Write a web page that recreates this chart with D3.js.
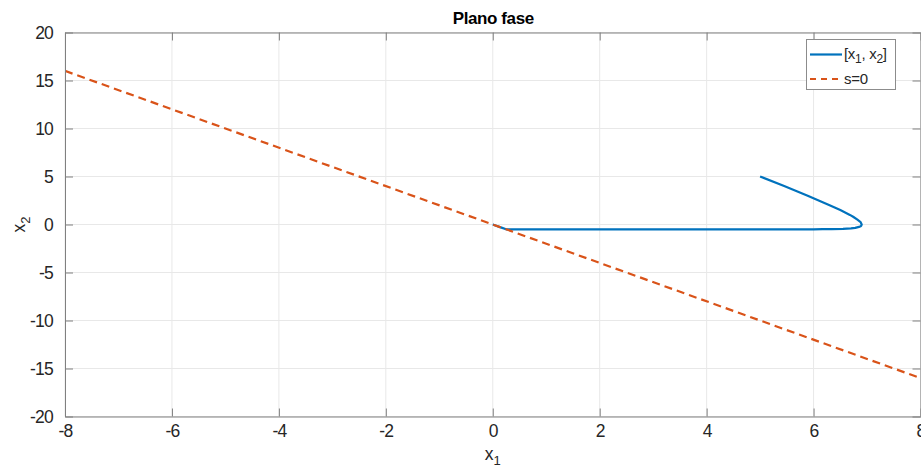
<!DOCTYPE html>
<html>
<head>
<meta charset="utf-8">
<script src="https://cdn.jsdelivr.net/npm/d3@7"></script>
<style>
  html, body { margin: 0; padding: 0; background: #fff; }
  svg { display: block; font-family: "Liberation Sans", Arial, Helvetica, sans-serif; }
</style>
</head>
<body>
<svg id="chart" width="921" height="467"></svg>
<script>
// ---- Data ----
const xTicks = [-8, -6, -4, -2, 0, 2, 4, 6, 8];
const yTicks = [-20, -15, -10, -5, 0, 5, 10, 15, 20];

// Trajectory [x1, x2]
const trajX1 = [5.00, 5.45, 5.89, 6.30, 6.50, 6.68, 6.74, 6.82, 6.88, 6.90, 6.89, 6.85, 6.78, 6.70, 6.55, 6.34, 6.17, 6.00, 5.00, 3.00, 1.00, 0.25, 0.15, 0.05, 0.00];
const trajX2 = [5.00, 4.00, 3.00, 2.00, 1.50, 1.00, 0.81, 0.50, 0.25, 0.00, -0.15, -0.25, -0.35, -0.40, -0.45, -0.48, -0.49, -0.50, -0.50, -0.50, -0.50, -0.50, -0.30, -0.10, 0.00];

// Sliding surface s = 0  (x2 = -2 x1)
const surfX1 = [-8, 8];
const surfX2 = [16, -16];

const titleText = "Plano fase";
const legendLabels = ["[x1, x2]", "s=0"];

// ---- Layout ----
const svg = d3.select("#chart");
const L = 65, R = 920.5, T = 32.5, B = 416.5;
const x = d3.scaleLinear().domain([-8, 8]).range([L, R]);
const y = d3.scaleLinear().domain([-20, 20]).range([B, T]);

const blue = "#0072BD", orange = "#D95319";
const axisColor = "#808080", textColor = "#262626", gridColor = "#e8e8e8";

// Grid
const g = svg.append("g");
g.selectAll("line.gx").data(xTicks).enter().append("line")
  .attr("x1", d => x(d)).attr("x2", d => x(d)).attr("y1", T).attr("y2", B)
  .attr("stroke", gridColor).attr("stroke-width", 1);
g.selectAll("line.gy").data(yTicks).enter().append("line")
  .attr("x1", L).attr("x2", R).attr("y1", d => y(d)).attr("y2", d => y(d))
  .attr("stroke", gridColor).attr("stroke-width", 1);

// Data lines
const lineGen = d3.line().x(d => x(d[0])).y(d => y(d[1]));
const traj = trajX1.map((v, i) => [v, trajX2[i]]);
const surf = surfX1.map((v, i) => [v, surfX2[i]]);

svg.append("clipPath").attr("id", "clip").append("rect")
  .attr("x", L).attr("y", T).attr("width", R - L).attr("height", B - T);

svg.append("path").datum(traj).attr("d", lineGen)
  .attr("fill", "none").attr("stroke", blue).attr("stroke-width", 2.2)
  .attr("stroke-linejoin", "round").attr("clip-path", "url(#clip)");
svg.append("path").datum(surf).attr("d", lineGen)
  .attr("fill", "none").attr("stroke", orange).attr("stroke-width", 2.2)
  .attr("stroke-dasharray", "8,5").attr("clip-path", "url(#clip)");

// Axes (box with inward ticks)
const tickLen = 8;
const fmt = d => String(d);
const axB = d3.axisBottom(x).tickValues(xTicks).tickFormat(fmt).tickSizeInner(-tickLen).tickSizeOuter(0).tickPadding(10);
const axL = d3.axisLeft(y).tickValues(yTicks).tickFormat(fmt).tickSizeInner(-tickLen).tickSizeOuter(0).tickPadding(12);
const axT = d3.axisTop(x).tickValues(xTicks).tickSizeInner(-tickLen).tickSizeOuter(0).tickFormat("");
const axR = d3.axisRight(y).tickValues(yTicks).tickSizeInner(-tickLen).tickSizeOuter(0).tickFormat("");

function styleAxis(sel) {
  sel.selectAll("path").attr("stroke", axisColor).attr("stroke-width", 1);
  sel.selectAll("line").attr("stroke", axisColor).attr("stroke-width", 1);
  sel.selectAll("text").attr("fill", textColor).attr("font-size", "17.5px")
    .attr("letter-spacing", "-0.8")
    .attr("font-family", "'Liberation Sans', Arial, sans-serif");
}
const gB = svg.append("g").attr("transform", `translate(0,${B})`).call(axB); styleAxis(gB);
const gL = svg.append("g").attr("transform", `translate(${L},0)`).call(axL); styleAxis(gL);
const gT = svg.append("g").attr("transform", `translate(0,${T})`).call(axT); styleAxis(gT);
const gR = svg.append("g").attr("transform", `translate(${R},0)`).call(axR); styleAxis(gR);
gB.selectAll("text").attr("dy", "0.6em");

// Title
svg.append("text").attr("x", (L + R) / 2 + 0.5).attr("y", 24)
  .attr("text-anchor", "middle").attr("font-weight", "bold").attr("font-size", "17px")
  .attr("fill", "#000").attr("letter-spacing", "-0.4").text(titleText);

// Axis labels with subscripts
const xl = svg.append("text").attr("x", (L + R) / 2).attr("y", 460)
  .attr("text-anchor", "middle").attr("font-size", "17.5px").attr("fill", textColor);
xl.append("tspan").text("x");
xl.append("tspan").attr("font-size", "13px").attr("dy", "5").text("1");

const yl = svg.append("text").attr("transform", `translate(25,${(T + B) / 2}) rotate(-90)`)
  .attr("text-anchor", "middle").attr("font-size", "17.5px").attr("fill", textColor);
yl.append("tspan").text("x");
yl.append("tspan").attr("font-size", "13px").attr("dy", "5").text("2");

// Legend
const lg = svg.append("g");
const lx = 806.5, ly = 39.5, lw = 89, lh = 50;
lg.append("rect").attr("x", lx).attr("y", ly).attr("width", lw).attr("height", lh)
  .attr("fill", "#fff").attr("stroke", "#8c8c8c").attr("stroke-width", 1);
const rows = [{ c: blue, dash: null, yy: 54.5 }, { c: orange, dash: "6,5", yy: 79 }];
rows.forEach(r => {
  lg.append("line").attr("x1", 810).attr("x2", 842).attr("y1", r.yy).attr("y2", r.yy)
    .attr("stroke", r.c).attr("stroke-width", 2.2).attr("stroke-dasharray", r.dash);
});
const t1 = lg.append("text").attr("x", 844).attr("y", 59).attr("font-size", "15px").attr("fill", textColor)
  .attr("letter-spacing", "-0.3");
t1.append("tspan").text("[x");
t1.append("tspan").attr("font-size", "12px").attr("dy", "4").text("1");
t1.append("tspan").attr("dy", "-4").text(", x");
t1.append("tspan").attr("font-size", "12px").attr("dy", "4").text("2");
t1.append("tspan").attr("dy", "-4").text("]");
lg.append("text").attr("x", 844).attr("y", 84).attr("font-size", "15px").attr("fill", textColor)
  .attr("letter-spacing", "-0.3").text(legendLabels[1]);
</script>
</body>
</html>
